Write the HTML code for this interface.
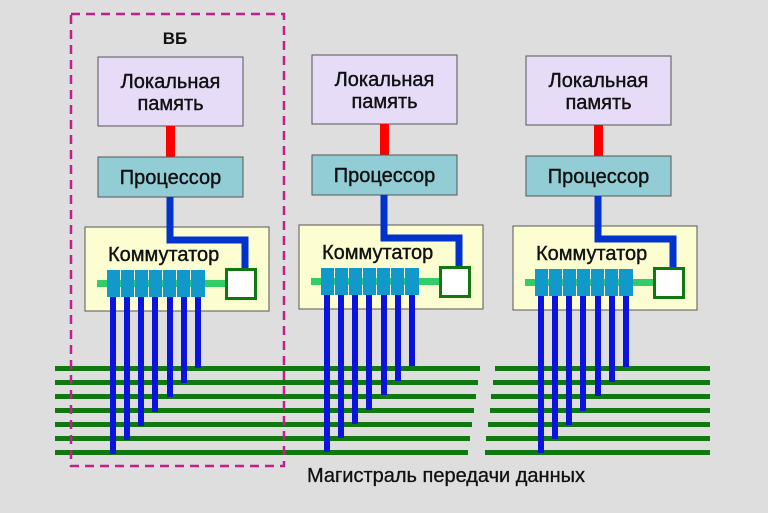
<!DOCTYPE html>
<html><head><meta charset="utf-8"><style>
html,body{margin:0;padding:0;background:#dedede;}
svg{display:block;font-family:"Liberation Sans","DejaVu Sans",sans-serif;}
</style></head><body>
<svg width="768" height="513" viewBox="0 0 768 513" xmlns="http://www.w3.org/2000/svg">
<rect width="768" height="513" fill="#dedede"/>
<defs>
<g id="blk">
  <rect x="98" y="57" width="145" height="69" fill="#e6dcf8" stroke="#555" stroke-width="1"/>
  <text x="170.5" y="88" font-size="20" text-anchor="middle" fill="#111" stroke="#111" stroke-width="0.4">Локальная</text>
  <text x="170.5" y="110" font-size="20" text-anchor="middle" fill="#111" stroke="#111" stroke-width="0.4">память</text>
  <rect x="166" y="126" width="9" height="31" fill="#ff0000"/>
  <rect x="98" y="157" width="145" height="40" fill="#92cdd6" stroke="#555" stroke-width="1"/>
  <text x="170.5" y="184" font-size="20" text-anchor="middle" fill="#111" stroke="#111" stroke-width="0.4">Процессор</text>
  <rect x="85" y="227" width="184" height="84" fill="#fdfdd2" stroke="#555" stroke-width="1"/>
  <polyline points="170,197 170,240 245,240 245,268" fill="none" stroke="#0033cc" stroke-width="7"/>
  <text x="108" y="261" font-size="20" fill="#111" stroke="#111" stroke-width="0.4">Коммутатор</text>
  <rect x="97" y="280" width="130" height="7" fill="#33cc66"/>
  <g fill="#1199cc">
    <rect x="107" y="270" width="13" height="27"/><rect x="121" y="270" width="13" height="27"/>
    <rect x="135" y="270" width="13" height="27"/><rect x="149" y="270" width="13" height="27"/>
    <rect x="163" y="270" width="13" height="27"/><rect x="177" y="270" width="13" height="27"/>
    <rect x="191" y="270" width="14" height="27"/>
  </g>
  <rect x="226.5" y="269.5" width="29" height="29" fill="#fff" stroke="#117711" stroke-width="3"/>
  <g fill="#0a14dd">
    <rect x="110" y="297" width="6" height="157"/>
    <rect x="124" y="297" width="6" height="143"/>
    <rect x="138" y="297" width="6" height="129"/>
    <rect x="152" y="297" width="6" height="115"/>
    <rect x="167" y="297" width="6" height="100"/>
    <rect x="181" y="297" width="6" height="86"/>
    <rect x="195" y="297" width="6" height="71"/>
  </g>
</g>
</defs>
<g fill="#117711">
  <path d="M55 366 H480 V371 H55Z M55 380 H478 V385 H55Z M55 394 H476 V399 H55Z M55 408 H474 V413 H55Z M55 422 H472 V427 H55Z M55 436 H470 V441 H55Z M55 450 H468 V455 H55Z"/>
  <path d="M495 366 H710 V371 H495Z M493 380 H710 V385 H493Z M491 394 H710 V399 H491Z M490 408 H710 V413 H490Z M488 422 H710 V427 H488Z M486 436 H710 V441 H486Z M485 450 H710 V455 H485Z"/>
</g>
<use href="#blk"/>
<use href="#blk" transform="translate(214,-2)"/>
<use href="#blk" transform="translate(428,-1)"/>
<rect x="71" y="14" width="213" height="452" fill="none" stroke="#c0208a" stroke-width="2.5" stroke-dasharray="9,6"/>
<text x="175" y="44" font-size="17" font-weight="bold" text-anchor="middle" fill="#111">ВБ</text>
<text x="446" y="482" font-size="20" text-anchor="middle" fill="#111" stroke="#111" stroke-width="0.3">Магистраль передачи данных</text>
</svg>
</body></html>
